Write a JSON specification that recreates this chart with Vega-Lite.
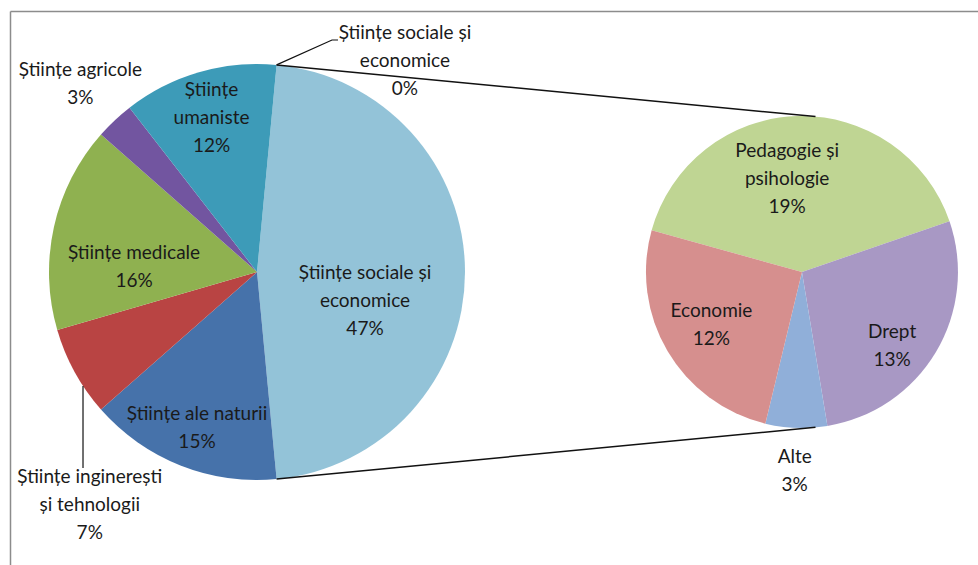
{
  "$schema": "https://vega.github.io/schema/vega-lite/v6.json",
  "width": 968,
  "height": 554,
  "autosize": {"type": "none"},
  "padding": {"left": 10, "top": 11, "right": 0, "bottom": 0},
  "background": "white",
  "config": {
    "view": {"stroke": null},
    "font": "Lato",
    "text": {"font": "Lato", "fontSize": 19, "color": "#1a1a1a", "lineBreak": "\n", "lineHeight": 28, "align": "center", "baseline": "middle"}
  },
  "datasets": {
    "fields": [
      {"key": "soc", "label": "Științe sociale și\neconomice\n47%", "value": 47, "idx": 1},
      {"key": "nat", "label": "Științe ale naturii\n15%", "value": 15, "idx": 2},
      {"key": "ing", "label": "Științe inginerești\nși tehnologii\n7%", "value": 7, "idx": 3},
      {"key": "med", "label": "Științe medicale\n16%", "value": 16, "idx": 4},
      {"key": "agr", "label": "Științe agricole\n3%", "value": 3, "idx": 5},
      {"key": "uma", "label": "Științe\numaniste\n12%", "value": 12, "idx": 6},
      {"key": "soc0", "label": "Științe sociale și\neconomice\n0%", "value": 0, "idx": 7}
    ],
    "social": [
      {"key": "ped", "label": "Pedagogie și\npsihologie\n19%", "value": 19, "idx": 1},
      {"key": "dre", "label": "Drept\n13%", "value": 13, "idx": 2},
      {"key": "alt", "label": "Alte\n3%", "value": 3, "idx": 3},
      {"key": "eco", "label": "Economie\n12%", "value": 12, "idx": 4}
    ],
    "connectors": [
      {"edge": "top", "x": 0.0941, "y": 0.9956, "x2": 2.685, "y2": 0.747},
      {"edge": "bottom", "x": 0.0941, "y": -0.9956, "x2": 2.685, "y2": -0.747}
    ],
    "leaders": [
      {"leader": "soc0", "step": 1, "x": 0.0941, "y": 0.9956},
      {"leader": "soc0", "step": 2, "x": 0.3606, "y": 1.1154},
      {"leader": "soc0", "step": 3, "x": 0.3894, "y": 1.1154},
      {"leader": "ing", "step": 1, "x": -0.8365, "y": -0.548},
      {"leader": "ing", "step": 2, "x": -0.8365, "y": -0.9423}
    ]
  },
  "layer": [
    {
      "data": {"name": "fields"},
      "layer": [
        {
          "mark": {"type": "arc", "radius": 208, "stroke": null},
          "encoding": {
            "x": {"datum": 0, "type": "quantitative", "scale": {"domain": [-1.1875, 3.4663], "nice": false, "zero": false}, "axis": {"orient": "top", "title": null, "ticks": false, "labels": false, "grid": false, "domain": true, "domainColor": "#8c8c8c", "domainWidth": 1.5}},
            "y": {"datum": 0, "type": "quantitative", "scale": {"domain": [-1.4087, 1.2548], "nice": false, "zero": false}, "axis": {"orient": "left", "title": null, "ticks": false, "labels": false, "grid": false, "domain": true, "domainColor": "#8c8c8c", "domainWidth": 1.5}},
            "theta": {"field": "value", "type": "quantitative", "stack": true, "scale": {"range": [0.0942, 6.3774]}},
            "order": {"field": "idx", "type": "quantitative"},
            "color": {"field": "key", "type": "nominal", "legend": null, "scale": {"domain": ["soc", "nat", "ing", "med", "agr", "uma", "soc0", "ped", "dre", "alt", "eco"], "range": ["#93C3D8", "#4672AA", "#B94443", "#8FB150", "#7255A0", "#3D9BB8", "#93C3D8", "#BFD593", "#A898C4", "#90AFD9", "#D68F8E"]}}
          }
        },
        {
          "mark": {"type": "text", "radius": 108, "dy": 1},
          "encoding": {
            "x": {"datum": 0, "type": "quantitative"},
            "y": {"datum": 0, "type": "quantitative"},
            "theta": {"field": "value", "type": "quantitative", "stack": true},
            "order": {"field": "idx", "type": "quantitative"},
            "text": {"condition": {"test": "datum.key === 'soc'", "field": "label"}, "value": ""}
          }
        },
        {
          "mark": {"type": "text", "radius": 163, "dy": -10},
          "encoding": {
            "x": {"datum": 0, "type": "quantitative"},
            "y": {"datum": 0, "type": "quantitative"},
            "theta": {"field": "value", "type": "quantitative", "stack": true},
            "order": {"field": "idx", "type": "quantitative"},
            "text": {"condition": {"test": "datum.key === 'nat'", "field": "label"}, "value": ""}
          }
        },
        {
          "mark": {"type": "text", "radius": 163, "dy": -25},
          "encoding": {
            "x": {"datum": 0, "type": "quantitative"},
            "y": {"datum": 0, "type": "quantitative"},
            "theta": {"field": "value", "type": "quantitative", "stack": true},
            "order": {"field": "idx", "type": "quantitative"},
            "text": {"condition": {"test": "datum.key === 'uma'", "field": "label"}, "value": ""}
          }
        },
        {
          "mark": {"type": "text", "radius": 126, "dy": 8},
          "encoding": {
            "x": {"datum": 0, "type": "quantitative"},
            "y": {"datum": 0, "type": "quantitative"},
            "theta": {"field": "value", "type": "quantitative", "stack": true},
            "order": {"field": "idx", "type": "quantitative"},
            "text": {"condition": {"test": "datum.key === 'med'", "field": "label"}, "value": ""}
          }
        },
        {
          "mark": {"type": "text", "radius": 258, "dy": -14},
          "encoding": {
            "x": {"datum": 0, "type": "quantitative"},
            "y": {"datum": 0, "type": "quantitative"},
            "theta": {"field": "value", "type": "quantitative", "stack": true},
            "order": {"field": "idx", "type": "quantitative"},
            "text": {"condition": {"test": "datum.key === 'agr'", "field": "label"}, "value": ""}
          }
        },
        {
          "mark": {"type": "text", "radius": 212, "dx": 128, "dy": -28},
          "encoding": {
            "x": {"datum": 0, "type": "quantitative"},
            "y": {"datum": 0, "type": "quantitative"},
            "theta": {"field": "value", "type": "quantitative", "stack": true},
            "order": {"field": "idx", "type": "quantitative"},
            "text": {"condition": {"test": "datum.key === 'soc0'", "field": "label"}, "value": ""}
          }
        },
        {
          "mark": {"type": "text", "radius": 200, "dx": 8, "dy": 109},
          "encoding": {
            "x": {"datum": 0, "type": "quantitative"},
            "y": {"datum": 0, "type": "quantitative"},
            "theta": {"field": "value", "type": "quantitative", "stack": true},
            "order": {"field": "idx", "type": "quantitative"},
            "text": {"condition": {"test": "datum.key === 'ing'", "field": "label"}, "value": ""}
          }
        }
      ]
    },
    {
      "data": {"name": "social"},
      "layer": [
        {
          "mark": {"type": "arc", "radius": 156, "stroke": null},
          "encoding": {
            "x": {"datum": 2.62, "type": "quantitative"},
            "y": {"datum": 0, "type": "quantitative"},
            "theta": {"field": "value", "type": "quantitative", "stack": true, "scale": {"range": [-1.3003, 4.9829]}},
            "order": {"field": "idx", "type": "quantitative"},
            "color": {"field": "key", "type": "nominal", "legend": null}
          }
        },
        {
          "mark": {"type": "text", "radius": 93, "dx": -12, "dy": -28},
          "encoding": {
            "x": {"datum": 2.62, "type": "quantitative"},
            "y": {"datum": 0, "type": "quantitative"},
            "theta": {"field": "value", "type": "quantitative", "stack": true},
            "order": {"field": "idx", "type": "quantitative"},
            "text": {"condition": {"test": "datum.key === 'ped'", "field": "label"}, "value": ""}
          }
        },
        {
          "mark": {"type": "text", "radius": 105, "dy": -14},
          "encoding": {
            "x": {"datum": 2.62, "type": "quantitative"},
            "y": {"datum": 0, "type": "quantitative"},
            "theta": {"field": "value", "type": "quantitative", "stack": true},
            "order": {"field": "idx", "type": "quantitative"},
            "text": {"condition": {"test": "datum.key === 'eco'", "field": "label"}, "value": ""}
          }
        },
        {
          "mark": {"type": "text", "radius": 105, "dy": 6},
          "encoding": {
            "x": {"datum": 2.62, "type": "quantitative"},
            "y": {"datum": 0, "type": "quantitative"},
            "theta": {"field": "value", "type": "quantitative", "stack": true},
            "order": {"field": "idx", "type": "quantitative"},
            "text": {"condition": {"test": "datum.key === 'dre'", "field": "label"}, "value": ""}
          }
        },
        {
          "mark": {"type": "text", "radius": 199, "dy": -14},
          "encoding": {
            "x": {"datum": 2.62, "type": "quantitative"},
            "y": {"datum": 0, "type": "quantitative"},
            "theta": {"field": "value", "type": "quantitative", "stack": true},
            "order": {"field": "idx", "type": "quantitative"},
            "text": {"condition": {"test": "datum.key === 'alt'", "field": "label"}, "value": ""}
          }
        }
      ]
    },
    {
      "data": {"name": "connectors"},
      "mark": {"type": "rule", "color": "#111111", "strokeWidth": 1.5},
      "encoding": {
        "x": {"field": "x", "type": "quantitative"},
        "y": {"field": "y", "type": "quantitative"},
        "x2": {"field": "x2"},
        "y2": {"field": "y2"}
      }
    },
    {
      "data": {"name": "leaders"},
      "mark": {"type": "line", "color": "#111111", "strokeWidth": 1.2},
      "encoding": {
        "x": {"field": "x", "type": "quantitative"},
        "y": {"field": "y", "type": "quantitative"},
        "detail": {"field": "leader", "type": "nominal"},
        "order": {"field": "step", "type": "quantitative"}
      }
    }
  ],
  "resolve": {"scale": {"theta": "independent"}}
}
